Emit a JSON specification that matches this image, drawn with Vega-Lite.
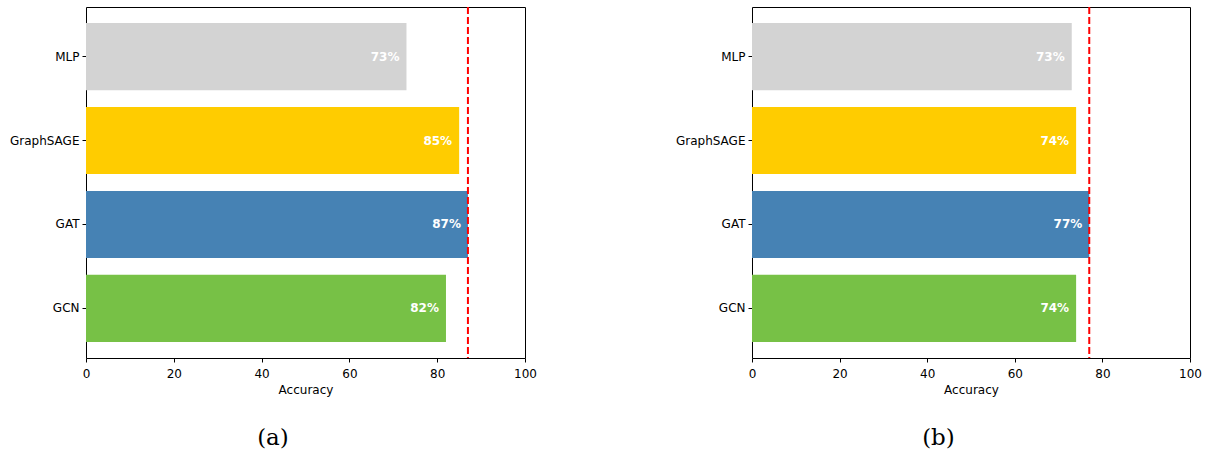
{
  "$schema": "https://vega.github.io/schema/vega-lite/v6.json",
  "padding": {"top": 5, "left": 8, "right": 14, "bottom": 5},
  "background": "white",
  "datasets": {
    "a": [
      {"model": "MLP", "acc": 73, "label": "73%"},
      {"model": "GraphSAGE", "acc": 85, "label": "85%"},
      {"model": "GAT", "acc": 87, "label": "87%"},
      {"model": "GCN", "acc": 82, "label": "82%"}
    ],
    "b": [
      {"model": "MLP", "acc": 73, "label": "73%"},
      {"model": "GraphSAGE", "acc": 74, "label": "74%"},
      {"model": "GAT", "acc": 77, "label": "77%"},
      {"model": "GCN", "acc": 74, "label": "74%"}
    ]
  },
  "config": {
    "font": "DejaVu Sans",
    "view": {"stroke": "#000", "strokeWidth": 1},
    "axis": {
      "grid": false,
      "domain": false,
      "tickColor": "#000",
      "tickSize": 4,
      "labelColor": "#000",
      "labelFontSize": 12,
      "labelFont": "DejaVu Sans",
      "titleFont": "DejaVu Sans",
      "titleFontWeight": "normal",
      "titleFontSize": 12,
      "titleColor": "#000",
      "labelPadding": 3
    },
    "axisX": {"labelPadding": 6},
    "title": {"font": "DejaVu Serif", "fontSize": 23, "fontWeight": "normal", "color": "#000", "orient": "bottom", "offset": 32, "anchor": "middle", "frame": "bounds"}
  },
  "bounds": "flush",
  "spacing": 227,
  "hconcat": [
    {
      "title": "(a)",
      "width": 439,
      "height": 351,
      "data": {"name": "a"},
      "encoding": {
        "y": {"field": "model", "type": "nominal", "sort": ["MLP", "GraphSAGE", "GAT", "GCN"], "scale": {"paddingInner": 0.2, "paddingOuter": 0.19}, "axis": {"title": null}}
      },
      "layer": [
        {
          "mark": {"type": "bar"},
          "encoding": {
            "x": {"field": "acc", "type": "quantitative", "scale": {"domain": [0, 100], "nice": false}, "axis": {"title": "Accuracy", "values": [0, 20, 40, 60, 80, 100], "labelFlush": false, "titlePadding": 5}},
            "color": {"field": "model", "type": "nominal", "scale": {"domain": ["MLP", "GraphSAGE", "GAT", "GCN"], "range": ["#d3d3d3", "#ffcc00", "#4682b4", "#77c146"]}, "legend": null}
          }
        },
        {
          "mark": {"type": "text", "align": "right", "baseline": "middle", "dx": -7, "color": "white", "fontWeight": "bold", "fontSize": 12},
          "encoding": {
            "x": {"field": "acc", "type": "quantitative"},
            "text": {"field": "label"}
          }
        },
        {
          "mark": {"type": "rule", "color": "#ff0000", "strokeWidth": 2, "strokeDash": [7, 3]},
          "encoding": {"x": {"aggregate": "max", "field": "acc", "type": "quantitative"}, "y": null}
        }
      ]
    },
    {
      "title": "(b)",
      "width": 438,
      "height": 351,
      "data": {"name": "b"},
      "encoding": {
        "y": {"field": "model", "type": "nominal", "sort": ["MLP", "GraphSAGE", "GAT", "GCN"], "scale": {"paddingInner": 0.2, "paddingOuter": 0.19}, "axis": {"title": null}}
      },
      "layer": [
        {
          "mark": {"type": "bar"},
          "encoding": {
            "x": {"field": "acc", "type": "quantitative", "scale": {"domain": [0, 100], "nice": false}, "axis": {"title": "Accuracy", "values": [0, 20, 40, 60, 80, 100], "labelFlush": false, "titlePadding": 5}},
            "color": {"field": "model", "type": "nominal", "scale": {"domain": ["MLP", "GraphSAGE", "GAT", "GCN"], "range": ["#d3d3d3", "#ffcc00", "#4682b4", "#77c146"]}, "legend": null}
          }
        },
        {
          "mark": {"type": "text", "align": "right", "baseline": "middle", "dx": -7, "color": "white", "fontWeight": "bold", "fontSize": 12},
          "encoding": {
            "x": {"field": "acc", "type": "quantitative"},
            "text": {"field": "label"}
          }
        },
        {
          "mark": {"type": "rule", "color": "#ff0000", "strokeWidth": 2, "strokeDash": [7, 3]},
          "encoding": {"x": {"aggregate": "max", "field": "acc", "type": "quantitative"}, "y": null}
        }
      ]
    }
  ]
}
